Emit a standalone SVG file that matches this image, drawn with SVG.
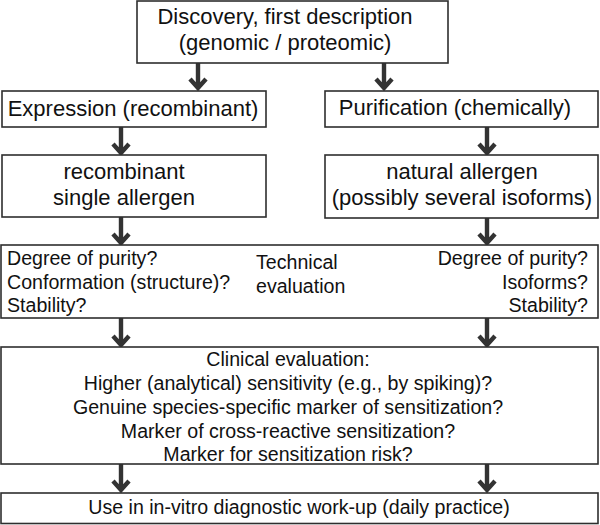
<svg xmlns="http://www.w3.org/2000/svg" width="600" height="525" viewBox="0 0 600 525">
<defs>
<style>
.box{fill:#ffffff;stroke:#2e2e2e;stroke-width:1.6}
.t{font-family:"Liberation Sans",Arial,sans-serif;fill:#111111}
.big{font-size:22px}
.mid{font-size:19.6px}
.c{text-anchor:middle}
.r{text-anchor:end}
.arr{fill:none;stroke:#333333;stroke-width:4.4;stroke-linejoin:miter;stroke-linecap:butt}
</style>
</defs>
<rect width="600" height="525" fill="#ffffff"/>
<g id="connectors">
<path class="arr" d="M198 63V88M190 79L198 88L206 79"/>
<path class="arr" d="M384 63V88M376 79L384 88L392 79"/>
<path class="arr" d="M121 127V153M113 144L121 153L129 144"/>
<path class="arr" d="M487 127V153M479 144L487 153L495 144"/>
<path class="arr" d="M121 217V243M113 234L121 243L129 234"/>
<path class="arr" d="M487 218V243M479 234L487 243L495 234"/>
<path class="arr" d="M121 318V345M113 336L121 345L129 336"/>
<path class="arr" d="M487 318V345M479 336L487 345L495 336"/>
<path class="arr" d="M121 464V490M113 481L121 490L129 481"/>
<path class="arr" d="M487 464V490M479 481L487 490L495 481"/>
</g>
<g id="discovery">
<rect class="box" x="137" y="1" width="311" height="62"/>
<text class="t big c" x="285" y="24">Discovery, first description</text>
<text class="t big c" x="285" y="50">(genomic / proteomic)</text>
</g>
<g id="expression">
<rect class="box" x="2" y="91" width="264" height="36"/>
<text class="t big c" x="133" y="116">Expression (recombinant)</text>
</g>
<g id="purification">
<rect class="box" x="325" y="91" width="273" height="36"/>
<text class="t big c" x="455" y="115">Purification (chemically)</text>
</g>
<g id="recombinant">
<rect class="box" x="2" y="155" width="264" height="62"/>
<text class="t big c" x="124" y="179">recombinant</text>
<text class="t big c" x="124" y="205">single allergen</text>
</g>
<g id="natural">
<rect class="box" x="325" y="155" width="273" height="63"/>
<text class="t big c" x="462" y="179">natural allergen</text>
<text class="t big c" x="462" y="205">(possibly several isoforms)</text>
</g>
<g id="technical">
<rect class="box" x="1" y="245" width="597" height="73"/>
<text class="t mid" x="7" y="265">Degree of purity?</text>
<text class="t mid" x="7" y="289">Conformation (structure)?</text>
<text class="t mid" x="7" y="312">Stability?</text>
<text class="t mid" x="256" y="269">Technical</text>
<text class="t mid" x="256" y="293">evaluation</text>
<text class="t mid r" x="588" y="265">Degree of purity?</text>
<text class="t mid r" x="588" y="289">Isoforms?</text>
<text class="t mid r" x="588" y="312">Stability?</text>
</g>
<g id="clinical">
<rect class="box" x="1" y="347" width="597" height="117"/>
<text class="t mid c" x="288" y="366">Clinical evaluation:</text>
<text class="t mid c" x="288" y="390">Higher (analytical) sensitivity (e.g., by spiking)?</text>
<text class="t mid c" x="288" y="414">Genuine species-specific marker of sensitization?</text>
<text class="t mid c" x="288" y="438">Marker of cross-reactive sensitization?</text>
<text class="t mid c" x="288" y="461">Marker for sensitization risk?</text>
</g>
<g id="use">
<rect class="box" x="1" y="493" width="597" height="30.5"/>
<text class="t mid c" x="299" y="514">Use in in-vitro diagnostic work-up (daily practice)</text>
</g>
</svg>
